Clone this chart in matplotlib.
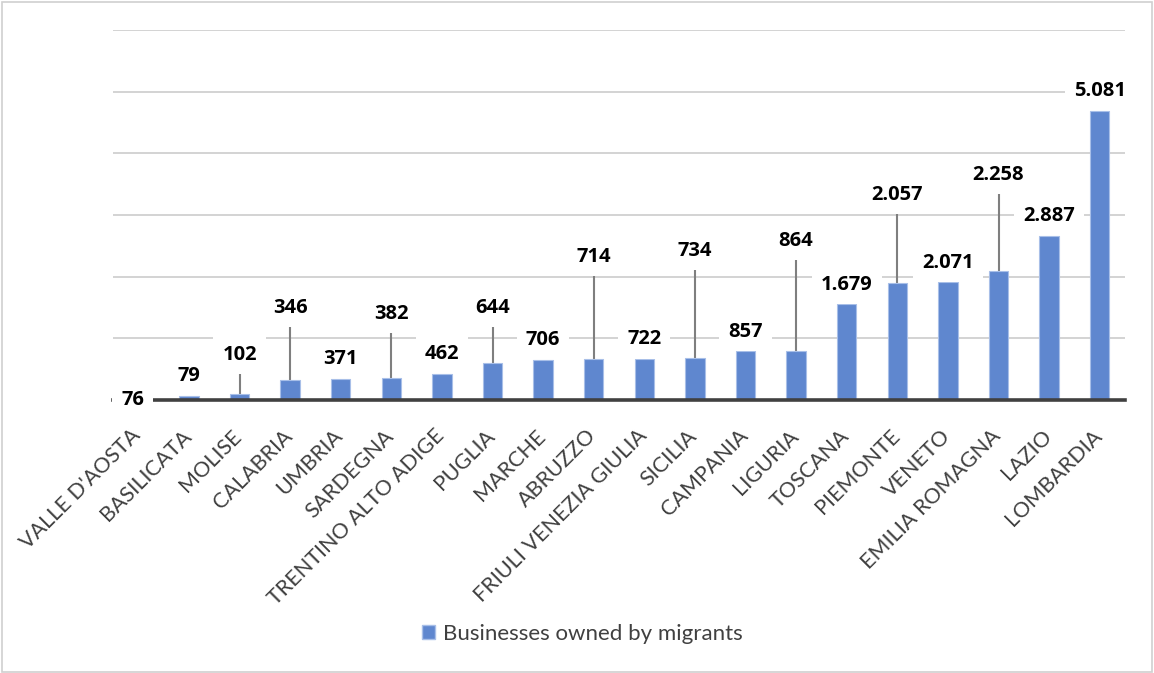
import numpy as np
import matplotlib.pyplot as plt
from matplotlib.patches import Rectangle, Patch
from matplotlib.transforms import ScaledTranslation

plt.rcParams['font.family'] = ['Lato', 'DejaVu Sans']

# data
regions = ["VALLE D'AOSTA", "BASILICATA", "MOLISE", "CALABRIA", "UMBRIA",
           "SARDEGNA", "TRENTINO ALTO ADIGE", "PUGLIA", "MARCHE", "ABRUZZO",
           "FRIULI VENEZIA GIULIA", "SICILIA", "CAMPANIA", "LIGURIA", "TOSCANA",
           "PIEMONTE", "VENETO", "EMILIA ROMAGNA", "LAZIO", "LOMBARDIA"]
businesses = [76, 79, 102, 346, 371, 382, 462, 644, 706, 714,
              722, 734, 857, 864, 1679, 2057, 2071, 2258, 2887, 5081]
value_labels = ["76", "79", "102", "346", "371", "382", "462", "644", "706", "714",
                "722", "734", "857", "864", "1.679", "2.057", "2.071", "2.258", "2.887", "5.081"]
series_name = "Businesses owned by migrants"

# labels moved up with a leader line (label height in data units)
leader_y = {2: 790, 3: 1615, 5: 1510, 7: 1615, 9: 2510, 11: 2620,
            13: 2790, 15: 3600, 17: 3950}

bar_col = '#5f87cf'
W, H = 1154, 673
fig = plt.figure(figsize=(W / 100, H / 100), dpi=100)
ax = fig.add_axes([113 / W, 1 - 400 / H, (1125 - 113) / W, 370 / H])

x = np.arange(len(regions))
ax.bar(x, businesses, width=0.38, color=bar_col, edgecolor='#a8bfe8',
       linewidth=0.8, zorder=3)

ymax = 6500
ax.set_xlim(-0.5, len(regions) - 0.5)
ax.set_ylim(0, ymax)
ax.set_yticks(np.linspace(0, ymax, 7))
ax.yaxis.grid(True, color='#d0d0d0', linewidth=1.3, zorder=0)
ax.tick_params(axis='y', left=False, labelleft=False)
ax.tick_params(axis='x', bottom=False, pad=15)
for s in ['top', 'right', 'left']:
    ax.spines[s].set_visible(False)
ax.spines['bottom'].set_color('#404040')
ax.spines['bottom'].set_linewidth(2.6)
ax.spines['bottom'].set_zorder(4)

ax.set_xticks(x)
ax.set_xticklabels(regions, rotation=45, ha='right', va='top',
                   rotation_mode='anchor', fontsize=15.5, color='#404040')
shift = ScaledTranslation(-0.08, 0.0, fig.dpi_scale_trans)
for t in ax.get_xticklabels():
    t.set_transform(t.get_transform() + shift)

px = 370 / ymax  # pixels per data unit
lab_font = dict(fontsize=14.5, fontweight='bold', family=['Open Sans', 'DejaVu Sans'],
                color='black')
box = dict(boxstyle='square,pad=0.45', fc='white', ec='none')
for i, (v, lab) in enumerate(zip(businesses, value_labels)):
    if i in leader_y:
        ly = leader_y[i]
        ax.plot([i, i], [v, ly - 18 / px], color='#7f7f7f', lw=1.5, zorder=2)
        ax.text(i, ly, lab, ha='center', va='center', bbox=box, zorder=5, **lab_font)
    elif i == 0:
        ax.annotate(lab, (i, 0), xytext=(-4, 0), textcoords='offset points',
                    ha='center', va='center', bbox=box, zorder=5, **lab_font)
    else:
        ax.annotate(lab, (i, v), xytext=(0, 14), textcoords='offset points',
                    ha='center', va='center', bbox=box, zorder=5, **lab_font)

handle = Patch(facecolor=bar_col, edgecolor='#a8bfe8')
fig.legend([handle], [series_name], loc='center', bbox_to_anchor=(582 / W, 1 - 634 / H),
           frameon=False, fontsize=16, labelcolor='#404040',
           handlelength=0.6, handleheight=0.6, handletextpad=0.35)

fig.patches.append(Rectangle((0.002, 0.002), 0.996, 0.995, transform=fig.transFigure,
                             fill=False, edgecolor='#d0d0d0', linewidth=1.2))

fig.savefig('out.png', dpi=100)
